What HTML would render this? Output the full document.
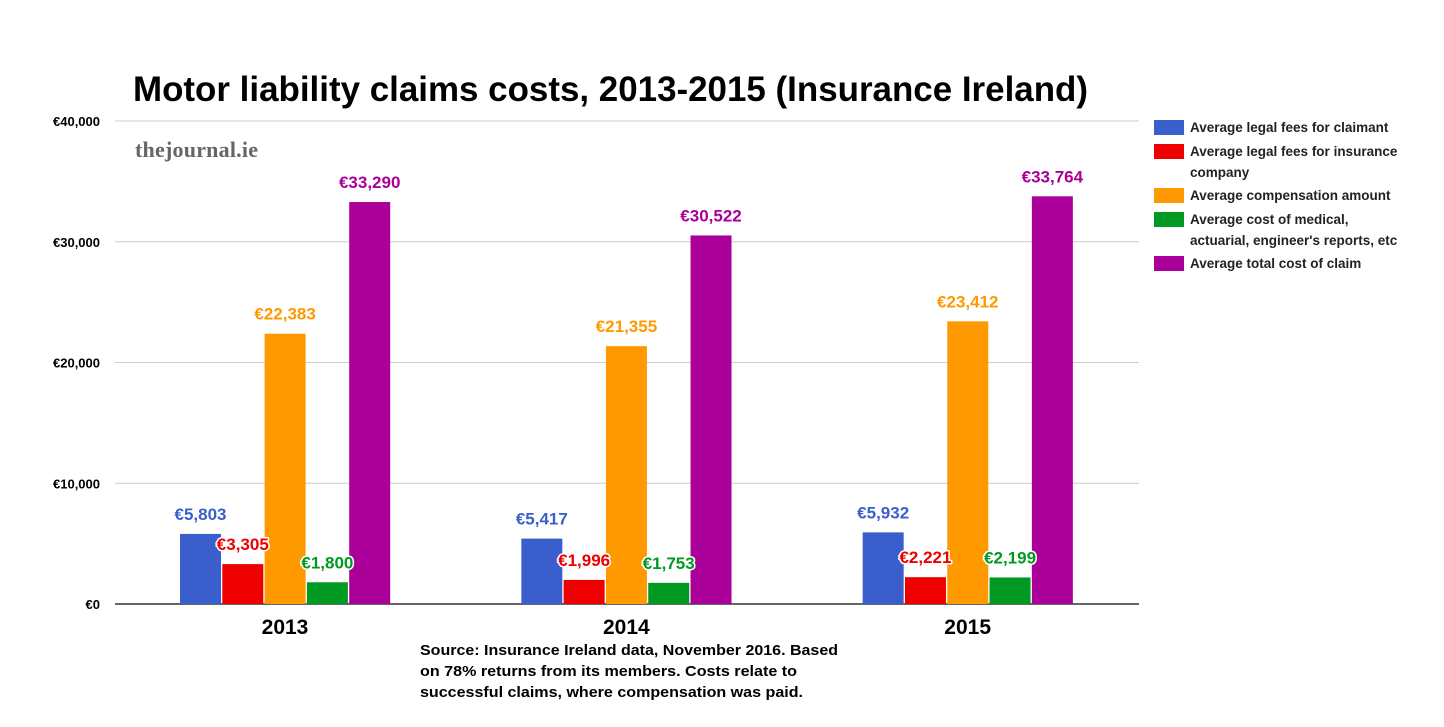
<!DOCTYPE html>
<html><head><meta charset="utf-8"><style>
body{margin:0;background:#fff;}
svg text{font-family:"Liberation Sans",Arial,sans-serif;}
</style></head><body>
<svg id="chart" width="1444" height="722" viewBox="0 0 1444 722" xmlns="http://www.w3.org/2000/svg">
<text x="133" y="101" font-size="35" font-weight="bold" fill="#000" textLength="955" lengthAdjust="spacingAndGlyphs">Motor liability claims costs, 2013-2015 (Insurance Ireland)</text>
<text x="135" y="157" style="font-family:'Liberation Serif',serif" font-size="22" font-weight="bold" fill="#666" textLength="123">thejournal.ie</text>
<g id="grid"></g>
<g id="bars"></g>
<g id="labels"></g>
<g id="legend"></g>
<text font-size="15" font-weight="bold" fill="#000">
<tspan x="420" y="655" textLength="418" lengthAdjust="spacingAndGlyphs">Source: Insurance Ireland data, November 2016. Based</tspan>
<tspan x="420" y="676" textLength="377" lengthAdjust="spacingAndGlyphs">on 78% returns from its members. Costs relate to</tspan>
<tspan x="420" y="697" textLength="383" lengthAdjust="spacingAndGlyphs">successful claims, where compensation was paid.</tspan>
</text>
</svg>
<script>
const categories = ["2013","2014","2015"];
const seriesNames = ["Average legal fees for claimant","Average legal fees for insurance|company","Average compensation amount","Average cost of medical,|actuarial, engineer's reports, etc","Average total cost of claim"];
const legalClaimant = [5803,5417,5932];
const legalInsurer = [3305,1996,2221];
const compensation = [22383,21355,23412];
const medical = [1800,1753,2199];
const total = [33290,30522,33764];
const yTicks = [0,10000,20000,30000,40000];
const tickLabels = ["€0","€10,000","€20,000","€30,000","€40,000"];
const series = [legalClaimant,legalInsurer,compensation,medical,total];
const colors = ["#3a5fcd","#ee0000","#ff9900","#009922","#aa0099"];

const NS="http://www.w3.org/2000/svg";
const x0=115,x1=1139,yBase=604,yTop=121,yMax=40000;
const y = v => yBase - v/yMax*(yBase-yTop);
const groupW=(x1-x0)/categories.length;
const barW=41,barStep=42.3;
function el(tag,attrs,parent){const e=document.createElementNS(NS,tag);for(const k in attrs)e.setAttribute(k,attrs[k]);parent.appendChild(e);return e;}

const grid=document.getElementById('grid');
yTicks.forEach((t,i)=>{
  const l=el('line',{x1:x0,x2:x1,y1:y(t),y2:y(t),stroke:i===0?'#333':'#ccc','stroke-width':i===0?1.5:1},grid);
  
  
  const tx=el('text',{x:100,y:y(t)+5,'text-anchor':'end','font-size':13,'font-weight':'bold',fill:'#000'},grid);
  tx.textContent=tickLabels[i];
  
  
});
const bars=document.getElementById('bars'),labels=document.getElementById('labels');
categories.forEach((c,ci)=>{
  const center=x0+groupW*ci+170;
  const ct=el('text',{x:center,y:634,'text-anchor':'middle','font-size':21,'font-weight':'bold',fill:'#000'},bars);
  ct.textContent=c;
  
  
  series.forEach((s,si)=>{
    const bx=center-105+si*barStep;
    const v=s[ci];
    const r=el('rect',{x:bx,y:y(v),width:barW,height:yBase-y(v),fill:colors[si]},bars);
    
    
    const t=el('text',{x:bx+barW/2,y:y(v)-14,'text-anchor':'middle','font-size':17,'font-weight':'bold',fill:colors[si],stroke:'#fff','stroke-width':3,'paint-order':'stroke','stroke-linejoin':'round'},labels);
    t.textContent='€'+v.toLocaleString('en-US');
    
    
  });
});
const legend=document.getElementById('legend');
const ly=[127,151,195,219,263];
seriesNames.forEach((n,i)=>{
  const r=el('rect',{x:1154,y:ly[i]-7,width:30,height:15,fill:colors[i]},legend);
  
  
  n.split('|').forEach((line,j)=>{
    const t=el('text',{x:1190,y:ly[i]+5+j*21,'font-size':13.5,'font-weight':'bold',fill:'#222'},legend);
    t.textContent=line;
    
    
  });
});
</script>
</body></html>
